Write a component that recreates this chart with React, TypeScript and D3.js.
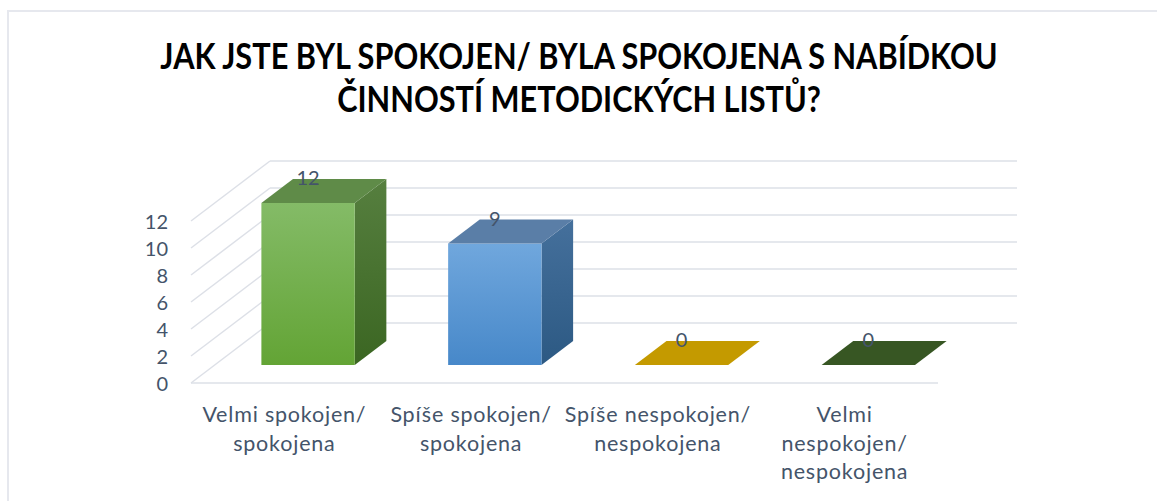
import React from "react";
import * as d3 from "d3";

const titleLines = ["JAK JSTE BYL SPOKOJEN/ BYLA SPOKOJENA S NABÍDKOU", "ČINNOSTÍ METODICKÝCH LISTŮ?"];
const categories = ["Velmi spokojen/ spokojena", "Spíše spokojen/ spokojena", "Spíše nespokojen/ nespokojena", "Velmi nespokojen/ nespokojena"];
const categoryLines = [
  ["Velmi spokojen/", "spokojena"],
  ["Spíše spokojen/", "spokojena"],
  ["Spíše nespokojen/", "nespokojena"],
  ["Velmi", "nespokojen/", "nespokojena"],
];
const values = [12, 9, 0, 0];
const yTicks = [0, 2, 4, 6, 8, 10, 12];
const barColors = [
  { front: ["#84bb67", "#63a435"], side: ["#567f3f", "#3b6622"], top: "#5f8b48" },
  { front: ["#70a7dd", "#4788c9"], side: ["#45709c", "#2c5983"], top: "#5a7ea7" },
  { front: ["#d4a90a", "#c49a00"], side: ["#a88400", "#947400"], top: "#c49a00" },
  { front: ["#3f6428", "#375623"], side: ["#2e4a1c", "#28411a"], top: "#375623" },
];

const W = 1157;
const H = 501;
const FONT = "Lato, 'Open Sans', sans-serif";
const TEXT = "#44546a";
const GRID = "#dde0e7";

export default function App() {
  const x = d3.scaleBand<string>().domain(categories).range([191, 938]).paddingInner(0).paddingOuter(0);
  const y = d3.scaleLinear().domain([0, 12]).range([383, 221]);
  const DX = 79;
  const DY = -60;
  const d0 = 0.3;
  const d1 = 0.7;
  const bw = x.bandwidth() * 0.5;
  const pt = (px: number, py: number, d: number) => [px + DX * d, py + DY * d];
  const poly = (pts: number[][]) => pts.map((p) => p.join(",")).join(" ");

  return (
    <svg width={W} height={H} style={{ position: "absolute", left: 0, top: 0, background: "#fff" }}>
      <defs>
        {barColors.map((c, i) => (
          <React.Fragment key={i}>
            <linearGradient id={`f${i}`} x1="0" y1="0" x2="0" y2="1">
              <stop offset="0" stopColor={c.front[0]} />
              <stop offset="1" stopColor={c.front[1]} />
            </linearGradient>
            <linearGradient id={`s${i}`} x1="0" y1="0" x2="0" y2="1">
              <stop offset="0" stopColor={c.side[0]} />
              <stop offset="1" stopColor={c.side[1]} />
            </linearGradient>
          </React.Fragment>
        ))}
      </defs>
      <rect x={8} y={11} width={W} height={H} fill="#fff" stroke="#e6e8ee" strokeWidth={2} />
      {titleLines.map((t, i) => (
        <g key={t} transform={`translate(579,${69 + i * 43}) scale(0.83,1)`}>
          <text x={0} y={0} textAnchor="middle" fontFamily={FONT} fontWeight={700} fontSize={37} fill="#000">
            {t}
          </text>
        </g>
      ))}
      {/* grid */}
      <g stroke={GRID} strokeWidth={1.5} fill="none">
        {yTicks.map((t) => {
          const [bx, by] = pt(191, y(t), 1);
          return (
            <g key={t}>
              <line x1={191} y1={y(t)} x2={bx} y2={by} />
              <line x1={bx} y1={by} x2={938 + DX} y2={by} />
            </g>
          );
        })}
        <line x1={191} y1={y(0)} x2={938} y2={y(0)} />
      </g>
      {/* y tick labels */}
      {yTicks.map((t) => (
        <text key={t} x={168} y={y(t) + 8} textAnchor="end" fontFamily={FONT} fontSize={20} fill={TEXT}>
          {t}
        </text>
      ))}
      {/* bars */}
      {categories.map((c, i) => {
        const xl = (x(c) as number) + (x.bandwidth() - bw) / 2;
        const xr = xl + bw;
        const yt = y(values[i]);
        const yb = y(0);
        const fl = pt(xl, yb, d0), fr = pt(xr, yb, d0), ftl = pt(xl, yt, d0), ftr = pt(xr, yt, d0);
        const btl = pt(xl, yt, d1), btr = pt(xr, yt, d1), bbr = pt(xr, yb, d1);
        const h = yb - yt;
        return (
          <g key={c}>
            {h > 0 && <polygon points={poly([fr, ftr, btr, bbr])} fill={`url(#s${i})`} />}
            {h > 0 && <polygon points={poly([fl, fr, ftr, ftl])} fill={`url(#f${i})`} />}
            <polygon points={poly([ftl, ftr, btr, btl])} fill={barColors[i].top} />
            <text x={(ftl[0] + ftr[0]) / 2} y={ftl[1] - 18} textAnchor="middle" fontFamily={FONT} fontSize={20} fill={TEXT}>
              {values[i]}
            </text>
          </g>
        );
      })}
      {/* category labels */}
      {categories.map((c, i) => (
        <text key={c} textAnchor="middle" fontFamily={FONT} fontSize={21.5} letterSpacing={0.8} fill={TEXT}>
          {categoryLines[i].map((l, j) => (
            <tspan key={j} x={(x(c) as number) + x.bandwidth() / 2} y={422 + j * 28.5}>
              {l}
            </tspan>
          ))}
        </text>
      ))}
    </svg>
  );
}
